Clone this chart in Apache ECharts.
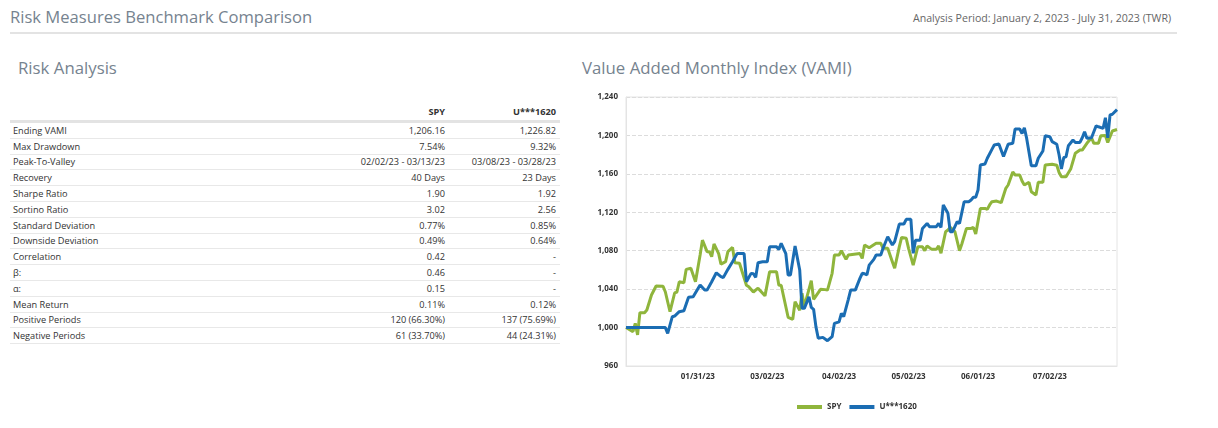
<!DOCTYPE html>
<html>
<head>
<meta charset="utf-8">
<script src="https://cdn.jsdelivr.net/npm/echarts@6/dist/echarts.min.js"></script>
<style>
body{margin:0;width:1218px;height:428px;background:#fff;font-family:"Open Sans",sans-serif;position:relative;overflow:hidden}
.title{position:absolute;left:10px;top:5px;font-size:16.6px;color:#76838f}
.period{position:absolute;left:913px;top:11px;font-size:10.6px;color:#666}
.hr{position:absolute;left:10px;top:32px;width:1167px;height:2px;background:#e3e3e3}
.sub{position:absolute;top:56px;font-size:16.8px;color:#76838f}
table{position:absolute;left:10px;top:102px;width:550px;border-collapse:collapse;font-size:9.2px;color:#333}
th{font-weight:bold;text-align:right;height:18px;border-bottom:3px solid #e3e3e3;padding:0 4px}
td{height:14.8px;border-bottom:1px solid #e8e8e8;padding:0 4px;text-align:right}
td:first-child{text-align:left;padding-left:3px}
#vami{position:absolute;left:575px;top:85px;width:570px;height:340px}
</style>
</head>
<body>
<div class="title">Risk Measures Benchmark Comparison</div>
<div class="period">Analysis Period: January 2, 2023 - July 31, 2023 (TWR)</div>
<div class="hr"></div>
<div class="sub" style="left:18px">Risk Analysis</div>
<div class="sub" style="left:582px">Value Added Monthly Index (VAMI)</div>
<table id="stats"></table>
<div id="vami"></div>
<script>
// table
const colNames = ['SPY', 'U***1620']
const rowLabels = ['Ending VAMI','Max Drawdown','Peak-To-Valley','Recovery','Sharpe Ratio','Sortino Ratio','Standard Deviation','Downside Deviation','Correlation','β:','α:','Mean Return','Positive Periods','Negative Periods']
const spyStats = ['1,206.16','7.54%','02/02/23 - 03/13/23','40 Days','1.90','3.02','0.77%','0.49%','0.42','0.46','0.15','0.11%','120 (66.30%)','61 (33.70%)']
const uStats = ['1,226.82','9.32%','03/08/23 - 03/28/23','23 Days','1.92','2.56','0.85%','0.64%','-','-','-','0.12%','137 (75.69%)','44 (24.31%)']

// chart
const xTickLabels = ['01/31/23','03/02/23','04/02/23','05/02/23','06/01/23','07/02/23']
const spyDates = ['12/31/22','01/03/23','01/04/23','01/05/23','01/06/23','01/08/23','01/09/23','01/11/23','01/13/23','01/16/23','01/17/23','01/19/23','01/21/23','01/22/23','01/23/23','01/25/23','01/26/23','01/28/23','01/30/23',
  '02/01/23','02/02/23','02/04/23','02/05/23','02/06/23','02/07/23','02/09/23','02/10/23','02/12/23','02/13/23','02/15/23','02/16/23','02/18/23','02/21/23','02/22/23','02/24/23','02/26/23',
  '03/01/23','03/03/23','03/06/23','03/07/23','03/08/23','03/11/23','03/13/23','03/14/23','03/16/23','03/17/23','03/18/23','03/21/23','03/22/23','03/25/23','03/27/23','03/28/23','03/30/23','03/31/23',
  '04/02/23','04/03/23','04/05/23','04/06/23','04/11/23','04/12/23','04/13/23','04/15/23','04/18/23','04/20/23','04/21/23','04/23/23','04/25/23','04/26/23','04/28/23','04/29/23',
  '05/01/23','05/02/23','05/04/23','05/06/23','05/08/23','05/09/23','05/10/23','05/12/23','05/14/23','05/15/23','05/16/23','05/18/23','05/19/23','05/20/23','05/22/23','05/24/23','05/25/23','05/27/23','05/29/23','05/30/23','05/31/23',
  '06/02/23','06/04/23','06/05/23','06/06/23','06/07/23','06/09/23','06/11/23','06/13/23','06/14/23','06/16/23','06/17/23','06/19/23','06/20/23','06/21/23','06/23/23','06/24/23','06/26/23','06/27/23','06/29/23','06/30/23',
  '07/03/23','07/05/23','07/06/23','07/07/23','07/09/23','07/11/23','07/13/23','07/15/23','07/16/23','07/18/23','07/20/23','07/21/23','07/23/23','07/24/23','07/26/23','07/27/23','07/29/23','07/31/23']
const spyValues = [1000,995.7,1004.4,992.3,1015.5,1015.5,1018.3,1033.9,1043.3,1043,1037,1016.5,1036,1037,1047.7,1046.7,1060.6,1061.7,1047.7,
  1075.5,1091,1079,1079,1073.8,1087,1077,1066,1068.6,1079,1083.5,1067.5,1067,1044,1042.5,1037,1041,
  1033,1058,1058,1044,1044,1010.7,1008.6,1027,1018,1035.6,1021.7,1048.8,1029.4,1039.8,1039.5,1039,1056.5,1075.5,
  1075.5,1080,1071,1075.5,1077,1072,1086,1083,1087.7,1087.7,1082.5,1082.5,1068.6,1061.7,1084,1093.9,
  1092.9,1082.5,1065,1084,1084,1080,1085,1081.4,1081.4,1085,1077.3,1099.8,1101.5,1104.3,1100,1080,1087,1103.2,1103.2,1104.2,1097.4,
  1124,1124,1123,1127.6,1131,1131.7,1130,1145,1148.4,1162,1158.8,1158.8,1152.6,1148.4,1151.2,1141.4,1138,1151.2,1151.2,1169.2,
  1169.9,1169,1161.4,1157,1157,1165,1181.4,1184.8,1184.8,1191.8,1197.6,1191.8,1191.8,1199.7,1200,1192.7,1204.6,1206.2]
const uDates = ['12/31/22','01/17/23','01/18/23','01/20/23','01/21/23','01/23/23','01/25/23','01/27/23','01/29/23',
  '02/01/23','02/03/23','02/04/23','02/06/23','02/08/23','02/10/23','02/11/23','02/13/23','02/15/23','02/17/23','02/20/23','02/21/23','02/23/23','02/24/23','02/25/23','02/26/23','02/28/23',
  '03/02/23','03/03/23','03/06/23','03/07/23','03/08/23','03/10/23','03/11/23','03/12/23','03/14/23','03/16/23','03/17/23','03/18/23','03/20/23','03/21/23','03/22/23','03/23/23','03/24/23','03/26/23','03/28/23','03/30/23','03/31/23',
  '04/02/23','04/03/23','04/04/23','04/06/23','04/07/23','04/09/23','04/11/23','04/12/23','04/13/23','04/14/23','04/15/23','04/17/23','04/18/23','04/20/23','04/21/23','04/23/23','04/25/23','04/26/23','04/28/23','04/30/23',
  '05/01/23','05/03/23','05/04/23','05/05/23','05/07/23','05/08/23','05/10/23','05/11/23','05/14/23','05/15/23','05/16/23','05/17/23','05/19/23','05/20/23','05/21/23','05/23/23','05/24/23','05/26/23','05/28/23','05/29/23','05/30/23','05/31/23',
  '06/01/23','06/02/23','06/04/23','06/05/23','06/07/23','06/08/23','06/10/23','06/12/23','06/14/23','06/16/23','06/17/23','06/19/23','06/20/23','06/21/23','06/22/23','06/24/23','06/26/23','06/27/23','06/29/23','06/30/23',
  '07/02/23','07/03/23','07/05/23','07/06/23','07/07/23','07/08/23','07/09/23','07/10/23','07/12/23','07/13/23','07/15/23','07/16/23','07/17/23','07/18/23','07/20/23','07/22/23','07/23/23','07/25/23','07/26/23','07/27/23','07/28/23','07/29/23','07/31/23']
const uValues = [1000,1000,994,1011.3,1012,1016.5,1017.6,1031.5,1032,
  1044.3,1039,1039,1047.7,1057,1053,1052,1060.6,1068.5,1077,1077,1047.7,1056.4,1056,1052.3,1067.5,1068.6,
  1068.6,1084,1084,1081.4,1087.7,1077,1054.7,1054.7,1085,1060,1020,1020,1032,1021,1019,1001,988.8,989.8,986.3,990.5,1004.4,
  1006,1014.8,1011.3,1029.4,1039,1039,1051.2,1056.5,1056,1054.7,1065,1071,1075.5,1075.5,1082.5,1094.6,1086,1089.4,1107.8,1107.8,
  1112.7,1112.7,1077.3,1091,1091,1103.2,1108.4,1105,1105,1108.4,1104.2,1127.6,1118.9,1099.8,1099.8,1110.2,1108.4,1131,1131,1132.8,1135.6,1135.6,
  1143.2,1169.2,1170.3,1176.2,1185.5,1190,1191,1178,1190.8,1191.8,1206.7,1206.7,1202,1208,1196.9,1168.4,1168.4,1176.2,1183.8,1199.7,
  1198.7,1193.5,1190.8,1179.6,1165,1176.8,1178,1189.3,1195.2,1192.7,1192.7,1197.6,1203.9,1197,1197.6,1210,1209,1207.4,1218.4,1197.6,1221.3,1222,1226.8]

let html = '<tr><th style="text-align:left"></th><th>' + colNames[0] + '</th><th>' + colNames[1] + '</th></tr>'
rowLabels.forEach((l, i) => {
  html += '<tr><td>' + l + '</td><td>' + spyStats[i] + '</td><td>' + uStats[i] + '</td></tr>'
})
document.getElementById('stats').innerHTML = html
document.querySelector('#stats th').style.width = '320px'

// every calendar day on the axis
let days = []
for (let t = Date.UTC(2022, 11, 31); t <= Date.UTC(2023, 6, 31); t += 86400000) {
  let d = new Date(t)
  let mm = String(d.getUTCMonth() + 1).padStart(2, '0')
  let dd = String(d.getUTCDate()).padStart(2, '0')
  let yy = String(d.getUTCFullYear()).slice(2)
  days.push(mm + '/' + dd + '/' + yy)
}

let myChart = echarts.init(document.getElementById('vami'))
myChart.setOption({
  animation: false,
  grid: {
    left: 51, right: 28, top: 12, bottom: 59,
    show: true, borderColor: '#e4e4e4', borderWidth: 1
  },
  legend: {
    left: 217, top: 313,
    icon: 'rect', itemWidth: 25, itemHeight: 4, itemGap: 8,
    textStyle: { fontSize: 8, fontWeight: 'bold', color: '#333', fontFamily: 'Open Sans' },
    data: colNames
  },
  xAxis: {
    type: 'category',
    data: days,
    boundaryGap: false,
    axisLine: { lineStyle: { color: '#e4e4e4' } },
    axisTick: { show: false },
    axisLabel: {
      interval: (i, v) => xTickLabels.includes(v),
      fontSize: 8, fontWeight: 'bold', color: '#333', margin: 7, fontFamily: 'Open Sans'
    },
    splitLine: { show: false }
  },
  yAxis: {
    type: 'value',
    min: 960, max: 1240, interval: 40,
    axisLine: { show: true, lineStyle: { color: '#e4e4e4' } },
    axisTick: { show: false },
    axisLabel: {
      formatter: v => v.toLocaleString('en-US'),
      fontSize: 8, fontWeight: 'bold', color: '#333', margin: 8, fontFamily: 'Open Sans'
    },
    splitLine: { lineStyle: { type: 'dashed', color: '#dcdcdc' } }
  },
  series: [
    {
      name: 'SPY',
      type: 'line',
      data: spyDates.map((d, i) => [d, spyValues[i]]),
      showSymbol: false,
      lineStyle: { width: 3, color: '#8fb53c' },
      itemStyle: { color: '#8fb53c' }
    },
    {
      name: 'U***1620',
      type: 'line',
      data: uDates.map((d, i) => [d, uValues[i]]),
      showSymbol: false,
      lineStyle: { width: 3, color: '#1b6db3' },
      itemStyle: { color: '#1b6db3' }
    }
  ]
})
</script>
</body>
</html>
